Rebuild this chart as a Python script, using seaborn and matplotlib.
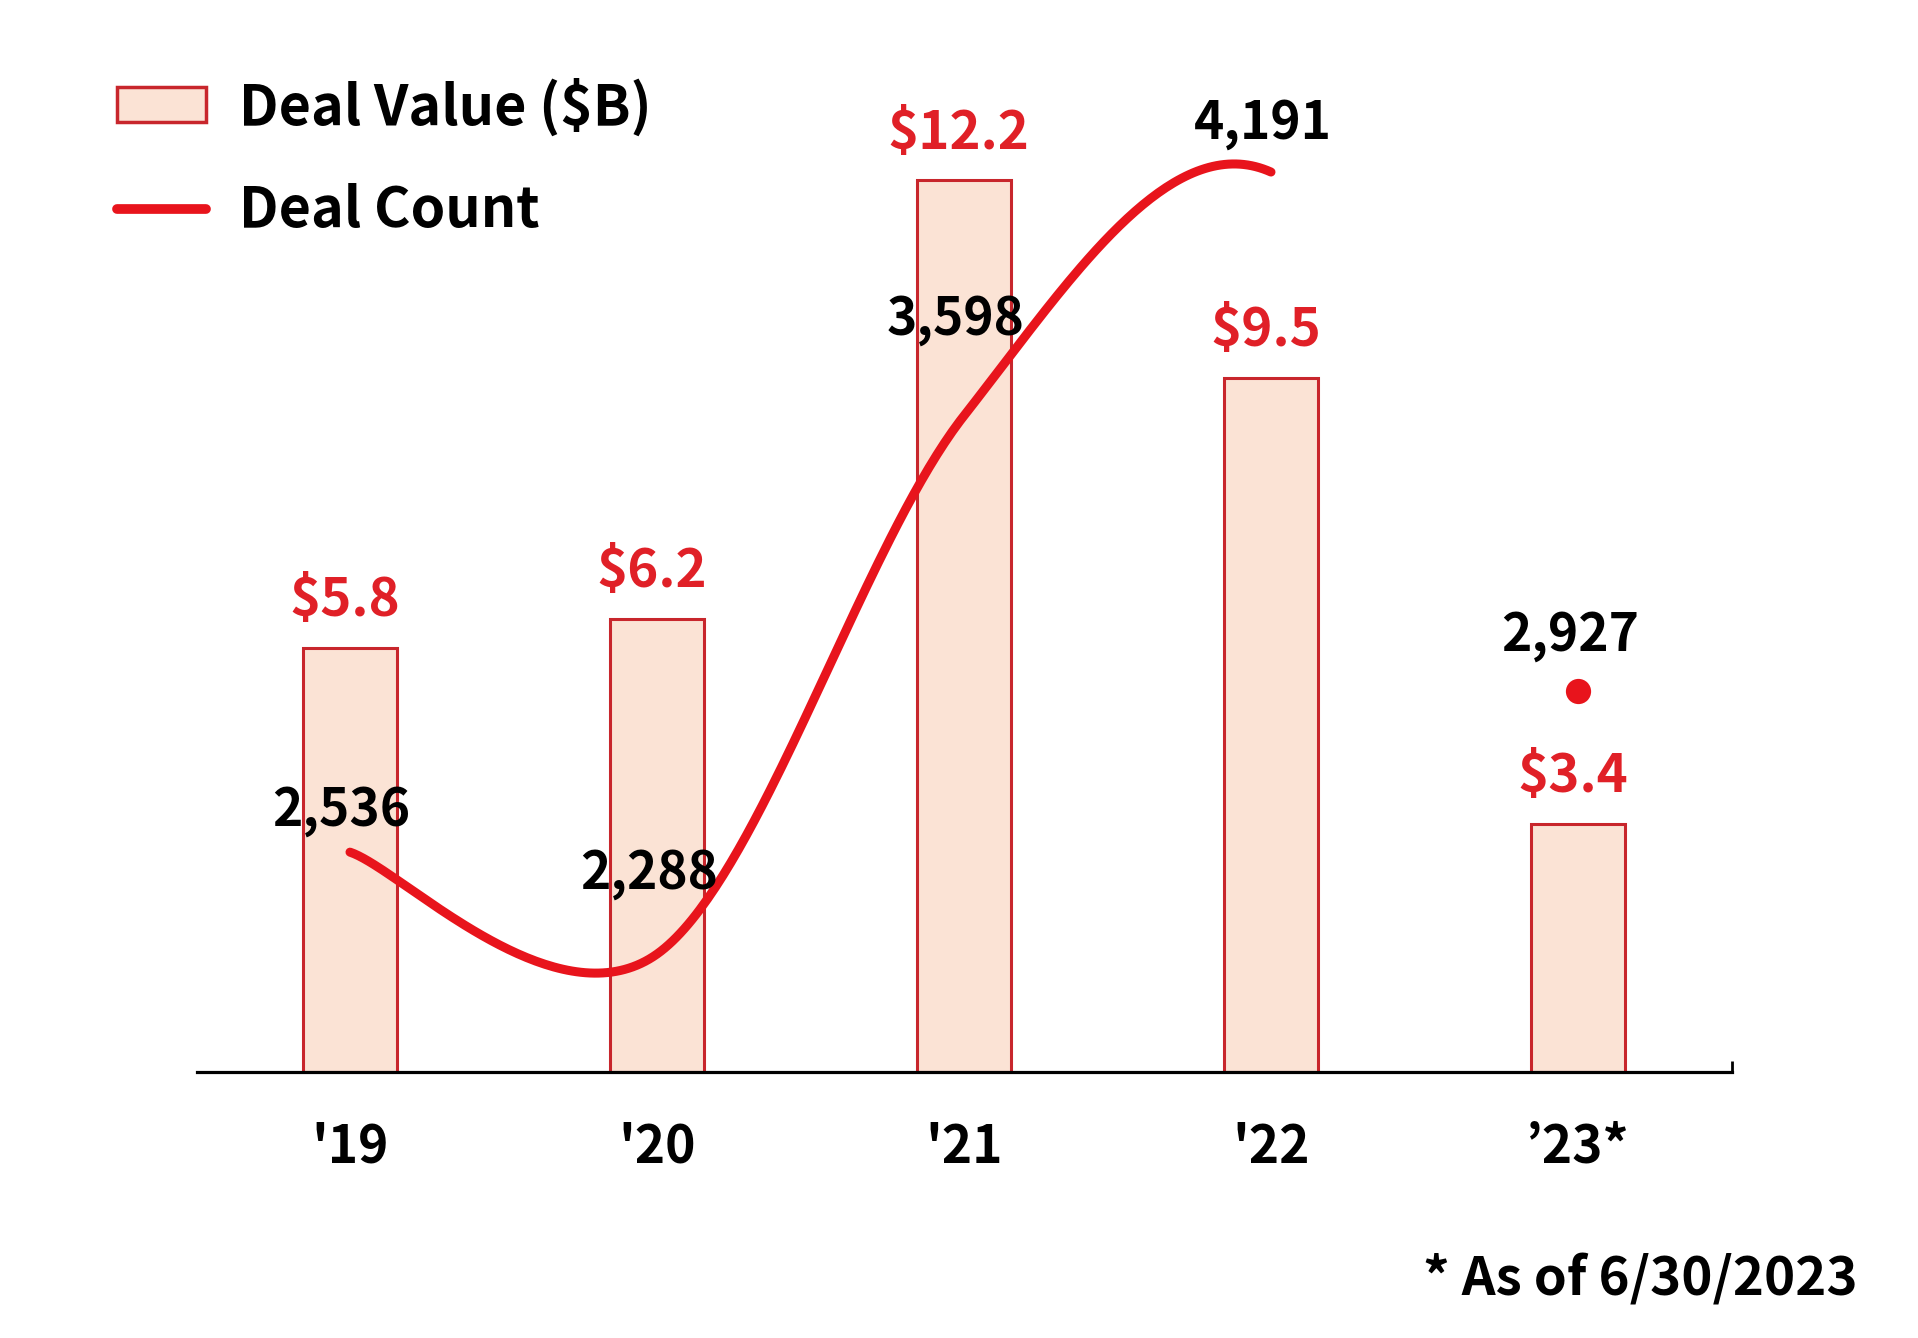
import numpy as np
import pandas as pd
import matplotlib
matplotlib.use('Agg')
import matplotlib.pyplot as plt
from matplotlib.patches import Patch
from matplotlib.lines import Line2D
import seaborn as sns

# chart data
years = ["'19", "'20", "'21", "'22", "\u201923*"]
deal_value = [5.8, 6.2, 12.2, 9.5, 3.4]        # $B, bars
deal_count = [2536, 2288, 3598, 4191, 2927]    # deals, line + last point as a dot

# label placement (points above the mark)
count_label_offsets = [30, 58, 69, 35, 40]
value_label_offset = 34

BAR_FILL = '#FBE3D5'
BAR_EDGE = '#C8262C'
LINE_RED = '#E8141C'
LABEL_RED = '#E02027'
FONT = ['Noto Sans CJK KR', 'DejaVu Sans']

sns.set_theme(style='white')
plt.rcParams['font.family'] = FONT
plt.rcParams['font.weight'] = 'bold'
plt.rcParams['text.color'] = 'black'


def smooth_curve(xs, ys, n_segments, steps=80):
    # Excel-style smoothed line (Catmull-Rom as cubic Bezier)
    pts = np.column_stack([xs, ys]).astype(float)
    padded = np.vstack([pts[0], pts, pts[-1]])
    t = np.linspace(0, 1, steps)[:, None]
    out = []
    for i in range(n_segments):
        p0, p1, p2, p3 = padded[i], padded[i + 1], padded[i + 2], padded[i + 3]
        c1 = p1 + (p2 - p0) / 6
        c2 = p2 - (p3 - p1) / 6
        seg = (1 - t) ** 3 * p1 + 3 * (1 - t) ** 2 * t * c1 + 3 * (1 - t) * t ** 2 * c2 + t ** 3 * p2
        out.append(seg if i == 0 else seg[1:])
    return np.vstack(out)


df = pd.DataFrame({'year': years, 'value': deal_value, 'count': deal_count})
pos = np.arange(len(years))

fig = plt.figure(figsize=(19.18, 13.38), dpi=100)
ax = fig.add_axes([196.5 / 1918, 1 - 1072 / 1338, (1731.5 - 196.5) / 1918, (1072 - 73) / 1338])

sns.barplot(data=df, x='year', y='value', order=years, color=BAR_FILL, saturation=1,
            width=0.306, edgecolor=BAR_EDGE, linewidth=2.2, ax=ax)
ax.set_xlim(-0.5, 4.5)
ax.set_ylim(0, 13.67)
ax.set_xlabel('')
ax.set_ylabel('')
ax.set_yticks([])
for s in ['top', 'left', 'right']:
    ax.spines[s].set_visible(False)
ax.spines['bottom'].set_color('black')
ax.spines['bottom'].set_linewidth(2.3)
ax.set_xticks(pos)
ax.set_xticklabels(years, fontsize=37, fontweight='bold', color='black')
ax.set_xticks([4.5], minor=True)
ax.tick_params(axis='x', which='both', direction='in', length=8, width=2, color='black',
               bottom=True, pad=35)

for i, v in enumerate(deal_value):
    ax.annotate(f'${v}', (i, v), xytext=(-4, value_label_offset), textcoords='offset points',
                ha='center', va='center', fontsize=38, fontweight='bold', color=LABEL_RED)

# deal count on its own scale
ax2 = ax.twinx()
ax2.set_ylim(2001, 4432)
curve = smooth_curve(pos, deal_count, n_segments=3)
curve_df = pd.DataFrame({'x': curve[:, 0], 'count': curve[:, 1]})
sns.lineplot(data=curve_df, x='x', y='count', sort=False, estimator=None,
             color=LINE_RED, linewidth=6.5, ax=ax2)
ax2.lines[-1].set_solid_capstyle('round')
sns.scatterplot(x=[pos[-1]], y=[deal_count[-1]], color=LINE_RED, s=330, linewidth=0, ax=ax2)
ax2.set_xlim(-0.5, 4.5)
ax2.set_yticks([])
ax2.set_ylabel('')
for s in ax2.spines.values():
    s.set_visible(False)

for i, (c, off) in enumerate(zip(deal_count, count_label_offsets)):
    ax2.annotate(f'{c:,}', (i, c), xytext=(-6, off), textcoords='offset points',
                 ha='center', va='center', fontsize=37, fontweight='bold', color='black')

handles = [Patch(facecolor=BAR_FILL, edgecolor=BAR_EDGE, linewidth=2.5),
           Line2D([0], [0], color=LINE_RED, linewidth=7, solid_capstyle='round')]
leg = fig.legend(handles, ['Deal Value ($B)', 'Deal Count'], loc='upper left',
                 bbox_to_anchor=(117 / 1918, 1 - 78 / 1338), frameon=False,
                 prop={'family': FONT, 'weight': 'bold', 'size': 40},
                 handlelength=1.6, handleheight=0.6, handletextpad=0.6,
                 labelspacing=0.85, borderpad=0, borderaxespad=0)
for txt in leg.get_texts():
    txt.set_color('black')

fig.text(1858 / 1918, 1 - 1280 / 1338, '* As of 6/30/2023', ha='right', va='center',
         fontsize=38, fontweight='bold', color='black')

fig.savefig('out.png', dpi=100, facecolor='white')
